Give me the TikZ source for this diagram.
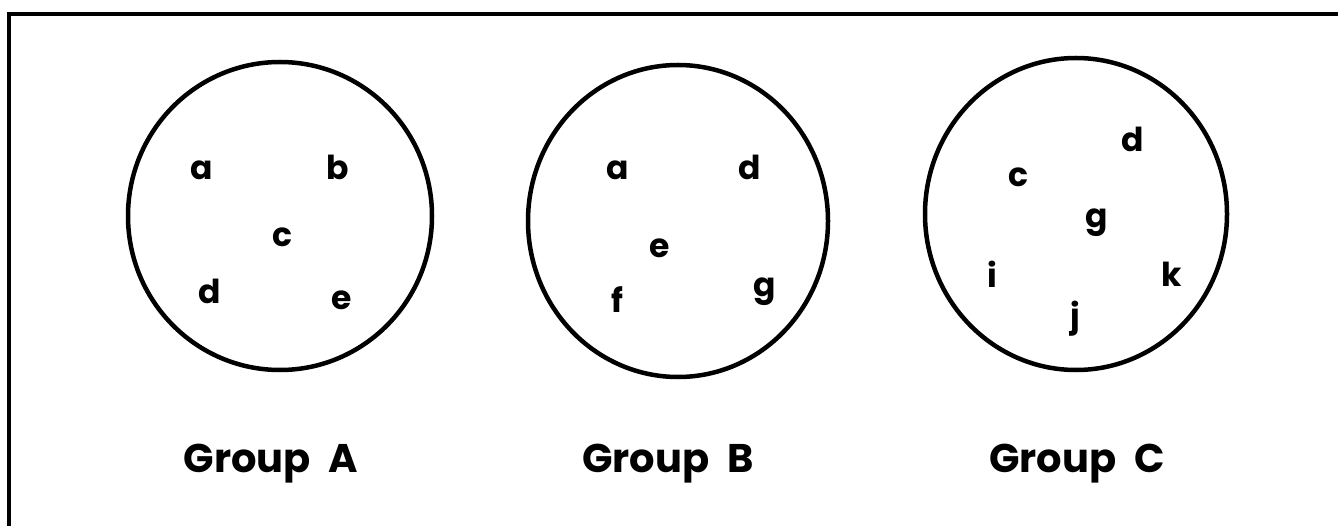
\documentclass[tikz,border=0pt]{standalone}
\usepackage{fontspec}
\setmainfont{Poppins}
\usetikzlibrary{shapes.geometric}
\begin{document}
\begin{tikzpicture}[x=1pt,y=-1pt,
  ring/.style={draw,ellipse,line width=4.5pt,inner sep=0pt},
  frameline/.style={line width=3.5pt},
  lett/.style={anchor=base,inner sep=0pt,font=\fontsize{33}{33}\selectfont\bfseries},
  grp/.style={anchor=base,inner sep=0pt,font=\fontsize{40}{40}\selectfont\bfseries}]
\useasboundingbox (0,0) rectangle (1338,526);
\coordinate (tl) at (9,14);
\coordinate (tr) at (1338,14);
\coordinate (bl) at (9,526);
\draw[frameline] (tr) -- (tl) -- (bl);
% circles
\node[ring,minimum width=304pt,minimum height=308pt] (cA) at (280,216) {};
\node[ring,minimum width=300pt,minimum height=312pt] (cB) at (678,221) {};
\node[ring,minimum width=302pt,minimum height=312pt] (cC) at (1076,214) {};
% group A
\node[lett] (Aa) at (202,180) {a};
\node[lett] (Ab) at (338,180) {b};
\node[lett] (Ac) at (282,247) {c};
\node[lett] (Ad) at (210,304) {d};
\node[lett] (Ae) at (342,310) {e};
% group B
\node[lett] (Ba) at (618,180) {a};
\node[lett] (Bd) at (750,180) {d};
\node[lett] (Be) at (660,258) {e};
\node[lett] (Bf) at (617,313) {f};
\node[lett] (Bg) at (765,297) {g};
% group C
\node[lett] (Cc) at (1018,187) {c};
\node[lett] (Cd) at (1133,152) {d};
\node[lett] (Cg) at (1097,228) {g};
\node[lett] (Ci) at (992,288) {i};
\node[lett] (Ck) at (1172,287) {k};
\node[lett] (Cj) at (1075,328) {j};
% labels
\node[grp] (gA) at (271,472) {Group\hspace{0.45em}A};
\node[grp] (gB) at (668,472) {Group\hspace{0.45em}B};
\node[grp] (gC) at (1077,472) {Group\hspace{0.45em}C};
\end{tikzpicture}
\end{document}
